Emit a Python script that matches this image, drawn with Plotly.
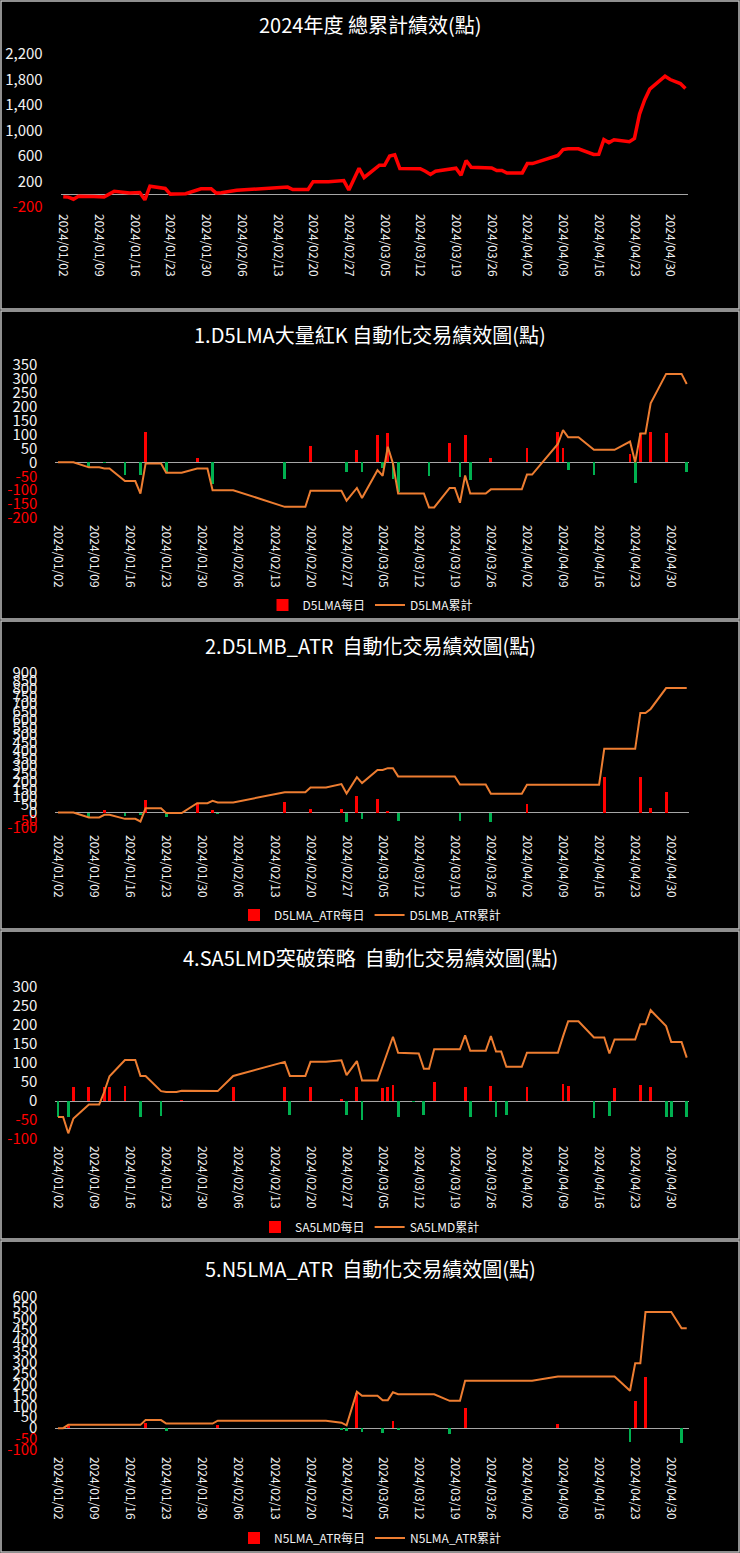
"""
2024 automated trading performance: total plus four strategies (daily bars + cumulative line).
"""

import plotly.graph_objects as go

W, H = 740, 1553

# trading days (TAIFEX 2024, Lunar New Year / holidays skipped)
DATES = [
    "2024-01-02", "2024-01-03", "2024-01-04", "2024-01-05",
    "2024-01-08", "2024-01-09", "2024-01-10", "2024-01-11", "2024-01-12",
    "2024-01-15", "2024-01-16", "2024-01-17", "2024-01-18", "2024-01-19",
    "2024-01-22", "2024-01-23", "2024-01-24", "2024-01-25", "2024-01-26",
    "2024-01-29", "2024-01-30", "2024-01-31", "2024-02-01", "2024-02-02",
    "2024-02-05",
    "2024-02-15", "2024-02-16",
    "2024-02-19", "2024-02-20", "2024-02-21", "2024-02-22", "2024-02-23",
    "2024-02-26", "2024-02-27", "2024-02-29", "2024-03-01",
    "2024-03-04", "2024-03-05", "2024-03-06", "2024-03-07", "2024-03-08",
    "2024-03-11", "2024-03-12", "2024-03-13", "2024-03-14", "2024-03-15",
    "2024-03-18", "2024-03-19", "2024-03-20", "2024-03-21", "2024-03-22",
    "2024-03-25", "2024-03-26", "2024-03-27", "2024-03-28", "2024-03-29",
    "2024-04-01", "2024-04-02", "2024-04-03",
    "2024-04-08", "2024-04-09", "2024-04-10", "2024-04-11", "2024-04-12",
    "2024-04-15", "2024-04-16", "2024-04-17", "2024-04-18", "2024-04-19",
    "2024-04-22", "2024-04-23", "2024-04-24", "2024-04-25", "2024-04-26",
    "2024-04-29", "2024-04-30",
    "2024-05-02", "2024-05-03",
]

TOTAL = [
    -40, -45, -78, -30,
    -36, -40, -42, 2, 46,
    18, 20, 26, -88, 127,
    90, 2, 4, 4, 8,
    86, 86, 86, 18, 24,
    64,
    112, 74,
    74, 198, 198, 198, 198,
    214, 66, 408, 263,
    455, 455, 598, 618, 404,
    402, 400, 360, 311, 362,
    405, 408, 299, 530, 422,
    422, 412, 373, 372, 334,
    334, 481, 481,
    610, 700, 713, 713, 712,
    625, 626, 857, 810, 855,
    825, 876, 1258, 1480, 1648,
    1851, 1800,
    1736, 1658,
]

D5LMA_DAY = [
    0, 0, 0, 0,
    -18, 0, 0, -4, 0,
    -45, 0, 0, -45, 108,
    0, -33, 0, 0, 0,
    15, 0, 0, -78, 0,
    0,
    -60, 0,
    0, 58, 0, 0, 0,
    0, -36, 46, -36,
    100, -20, 104, -60, -108,
    0, 0, 0, -50, 0,
    70, 0, -53, 98, -65,
    0, 15, 0, 0, 0,
    0, 53, 0,
    110, 50, -26, 0, 0,
    -45, 0, 0, 0, 0,
    30, -75, 104, 0, 108,
    106, 0,
    0, -36,
]
D5LMA_CUM = [
    0, 0, 0, 0,
    -18, -18, -18, -22, -22,
    -67, -67, -67, -112, -4,
    -4, -37, -37, -37, -37,
    -22, -22, -22, -100, -100,
    -100,
    -160, -160,
    -160, -102, -102, -102, -102,
    -102, -138, -92, -128,
    -28, -48, 56, -4, -112,
    -112, -112, -112, -162, -162,
    -92, -92, -145, -47, -112,
    -112, -97, -97, -97, -97,
    -97, -44, -44,
    66, 116, 90, 90, 90,
    45, 45, 45, 45, 45,
    75, 0, 104, 104, 212,
    318, 318,
    318, 282,
]

D5LMB_DAY = [
    0, 0, 0, 0,
    -30, 0, 0, 15, 0,
    -24, 0, 0, -17, 82,
    0, -30, 0, 0, 0,
    56, 0, 0, 15, -10,
    0,
    66, 0,
    0, 25, 0, 0, 0,
    20, -60, 104, -40,
    86, 0, 8, 0, -54,
    0, 0, 0, 0, 0,
    0, 0, -52, 0, 0,
    0, -62, 0, 0, 0,
    0, 56, 0,
    0, 0, 0, 0, 0,
    0, 0, 232, 0, 0,
    0, 0, 232, 0, 28,
    132, 0,
    0, 0,
]
D5LMB_CUM = [
    0, 0, 0, 0,
    -32, -32, -32, -15, -15,
    -41, -41, -41, -58, 28,
    28, -4, -4, -4, -4,
    60, 60, 60, 75, 65,
    65,
    131, 131,
    131, 161, 161, 161, 161,
    183, 123, 228, 190,
    275, 275, 286, 286, 233,
    233, 233, 233, 233, 233,
    233, 233, 181, 181, 181,
    181, 121, 121, 121, 121,
    121, 179, 179,
    179, 179, 179, 179, 179,
    179, 179, 411, 411, 411,
    411, 411, 642, 642, 668,
    803, 803,
    803, 803,
]

SA5LMD_DAY = [
    -42, 0, -42, 37,
    37, 0, 0, 37, 37,
    39, 0, 0, -41, 0,
    -39, 0, 0, 0, 3,
    0, 0, 0, 0, 0,
    38,
    38, -38,
    0, 37, 0, 0, 0,
    4, -37, 37, -51,
    0, 35, 38, 41, -41,
    -3, 0, -38, 0, 51,
    0, 0, 0, 37, -41,
    0, 39, -41, 0, -38,
    0, 36, 0,
    0, 44, 39, 0, 0,
    -44, 0, 0, -39, 35,
    0, 0, 41, 0, 37,
    -41, -41,
    0, -41,
]
SA5LMD_CUM = [
    -42, -42, -85, -46,
    -9, -9, -9, 25, 65,
    108, 108, 108, 66, 66,
    26, 24, 24, 24, 27,
    26, 26, 26, 26, 26,
    66,
    103, 66,
    66, 103, 103, 103, 103,
    107, 68, 105, 54,
    54, 92, 130, 169, 127,
    125, 125, 85, 85, 136,
    136, 136, 136, 173, 132,
    132, 171, 130, 130, 90,
    90, 127, 127,
    127, 170, 210, 210, 210,
    167, 167, 167, 125, 162,
    162, 162, 202, 202, 239,
    197, 155,
    155, 114,
]

N5LMA_DAY = [
    0, 0, 12, 0,
    0, 0, 0, 0, 0,
    0, 0, 0, 0, 25,
    0, -14, 0, 0, 0,
    0, 0, 0, 0, 15,
    0,
    0, 0,
    0, 0, 0, 0, 0,
    -9, -12, 160, -17,
    0, -20, 0, 34, -8,
    0, 0, 0, 0, 0,
    -28, 0, 0, 90, 0,
    0, 0, 0, 0, 0,
    0, 0, 0,
    18, 0, 0, 0, 0,
    0, 0, 0, 0, 0,
    -63, 125, 0, 233, 0,
    0, 0,
    -70, 0,
]
N5LMA_CUM = [
    0, 0, 15, 15,
    15, 15, 15, 15, 15,
    15, 15, 15, 15, 37,
    37, 21, 21, 21, 21,
    21, 21, 21, 21, 34,
    34,
    34, 34,
    34, 34, 34, 34, 34,
    25, 13, 167, 148,
    148, 128, 128, 164, 155,
    155, 155, 155, 155, 155,
    125, 125, 125, 217, 217,
    217, 217, 217, 217, 217,
    217, 217, 217,
    236, 236, 236, 236, 236,
    236, 236, 236, 236, 236,
    171, 297, 297, 531, 531,
    531, 531,
    457, 457,
]

TICK_DATES = [
    "2024-01-02", "2024-01-09", "2024-01-16", "2024-01-23", "2024-01-30",
    "2024-02-06", "2024-02-13", "2024-02-20", "2024-02-27", "2024-03-05",
    "2024-03-12", "2024-03-19", "2024-03-26", "2024-04-02", "2024-04-09",
    "2024-04-16", "2024-04-23", "2024-04-30",
]
TICK_LABELS = [d.replace("-", "/") for d in TICK_DATES]

Y_TICKS_1 = [-200, 200, 600, 1000, 1400, 1800, 2200]
Y_TICKS_2 = [-200, -150, -100, -50, 0, 50, 100, 150, 200, 250, 300, 350]
Y_TICKS_3 = [-100, -50, 0, 50, 100, 150, 200, 250, 300, 350, 400, 450,
             500, 550, 600, 650, 700, 750, 800, 850, 900]
Y_TICKS_4 = [-100, -50, 0, 50, 100, 150, 200, 250, 300]
Y_TICKS_5 = [-100, -50, 0, 50, 100, 150, 200, 250, 300, 350, 400, 450,
             500, 550, 600]

FONT = "Noto Sans CJK TC, Noto Sans, sans-serif"
RED = "#FF0000"
GREEN = "#00B050"
ORANGE = "#ED7D31"
TXT = "#F2F2F2"
X_RANGE = ["2024-01-01 12:00", "2024-05-03 12:00"]
BAR_W = 0.55 * 86400000


def fmt(v):
    s = f"{v:,}"
    return f"<span style='color:{RED}'>{s}</span>" if v < 0 else s


# (title, y ticks, daily, cumulative, daily name, cum name, plot px box, title y, legend y)
PANELS = [
    ("2024年度 總累計績效(點)", Y_TICKS_1, None, TOTAL, None, "總累計績效",
     (60.7, 688, 54, 207), 24, 295),
    ("1.D5LMA大量紅K 自動化交易績效圖(點)", Y_TICKS_2, D5LMA_DAY, D5LMA_CUM,
     "D5LMA每日", "D5LMA累計", (55.4, 689.3, 365, 518), 335, 605),
    ("2.D5LMB_ATR  自動化交易績效圖(點)", Y_TICKS_3, D5LMB_DAY, D5LMB_CUM,
     "D5LMA_ATR每日", "D5LMB_ATR累計", (55.4, 689.3, 673, 828), 645, 915),
    ("4.SA5LMD突破策略  自動化交易績效圖(點)", Y_TICKS_4, SA5LMD_DAY, SA5LMD_CUM,
     "SA5LMD每日", "SA5LMD累計", (55.4, 689.3, 987, 1139), 957, 1227),
    ("5.N5LMA_ATR  自動化交易績效圖(點)", Y_TICKS_5, N5LMA_DAY, N5LMA_CUM,
     "N5LMA_ATR每日", "N5LMA_ATR累計", (55.4, 689.3, 1297, 1450), 1268, 1538),
]
FRAMES = [(1, 309), (311, 619), (621, 929), (931, 1239), (1241, 1552)]

fig = go.Figure()
layout = {}
annotations = []
shapes = []

for i, (title, yticks, daily, cum, dname, cname, box, ty, ly) in enumerate(PANELS):
    n = "" if i == 0 else str(i + 1)
    xr, yr, lg = "x" + n, "y" + n, "legend" + n
    x0, x1, ytop, ybot = box

    if daily is not None:
        fig.add_trace(go.Bar(
            x=DATES, y=[v if v > 0 else None for v in daily], width=BAR_W,
            marker=dict(color=RED, line=dict(width=0)), name=dname,
            xaxis=xr, yaxis=yr, legend=lg,
        ))
        fig.add_trace(go.Bar(
            x=DATES, y=[v if v < 0 else None for v in daily], width=BAR_W,
            marker=dict(color=GREEN, line=dict(width=0)), showlegend=False,
            xaxis=xr, yaxis=yr, legend=lg,
        ))
        line = dict(color=ORANGE, width=2)
    else:
        line = dict(color=RED, width=3.5)

    fig.add_trace(go.Scatter(
        x=DATES, y=cum, mode="lines", line=line, name=cname,
        xaxis=xr, yaxis=yr, legend=lg,
    ))

    layout["xaxis" + n] = dict(
        domain=[x0 / W, x1 / W], anchor=yr, type="date", range=X_RANGE,
        tickmode="array", tickvals=TICK_DATES, ticktext=TICK_LABELS,
        tickangle=90, tickfont=dict(size=12, color=TXT, family=FONT),
        ticklabelstandoff=6, showgrid=False, zeroline=False, showline=False,
        automargin=False,
    )
    layout["yaxis" + n] = dict(
        domain=[1 - ybot / H, 1 - ytop / H], anchor=xr,
        range=[yticks[0], yticks[-1]],
        tickmode="array", tickvals=yticks, ticktext=[fmt(v) for v in yticks],
        tickfont=dict(size=15, color=TXT, family=FONT), ticklabelstandoff=17,
        showgrid=False, zeroline=True, zerolinecolor="#A6A6A6", zerolinewidth=1,
        showline=False, automargin=False,
    )
    layout[lg] = dict(
        orientation="h", x=0.5, xanchor="center", y=1 - ly / H, yanchor="middle",
        font=dict(size=12, color=TXT, family=FONT), bgcolor="rgba(0,0,0,0)",
        itemwidth=30, tracegroupgap=0,
    )
    annotations.append(dict(
        text=title, xref="paper", yref="paper", x=0.5, y=1 - ty / H,
        xanchor="center", yanchor="middle", showarrow=False,
        font=dict(size=20, color="#FFFFFF", family=FONT),
    ))

for top, bot in FRAMES:
    shapes.append(dict(
        type="rect", xref="paper", yref="paper",
        x0=1 / W, x1=739 / W, y0=1 - bot / H, y1=1 - top / H,
        line=dict(color="#BFBFBF", width=1.5),
    ))

fig.update_layout(
    template="none",
    width=W, height=H, autosize=False,
    margin=dict(l=0, r=0, t=0, b=0, pad=0, autoexpand=False),
    paper_bgcolor="#000000", plot_bgcolor="#000000",
    barmode="overlay", bargap=0,
    font=dict(family=FONT, color=TXT),
    annotations=annotations, shapes=shapes,
    **layout,
)

# drop the browser's default body margin so the figure sits at the page corner
fig.write_html(
    "out.html",
    config={"displayModeBar": False, "staticPlot": True},
    post_script="document.body.style.margin='0';",
)
